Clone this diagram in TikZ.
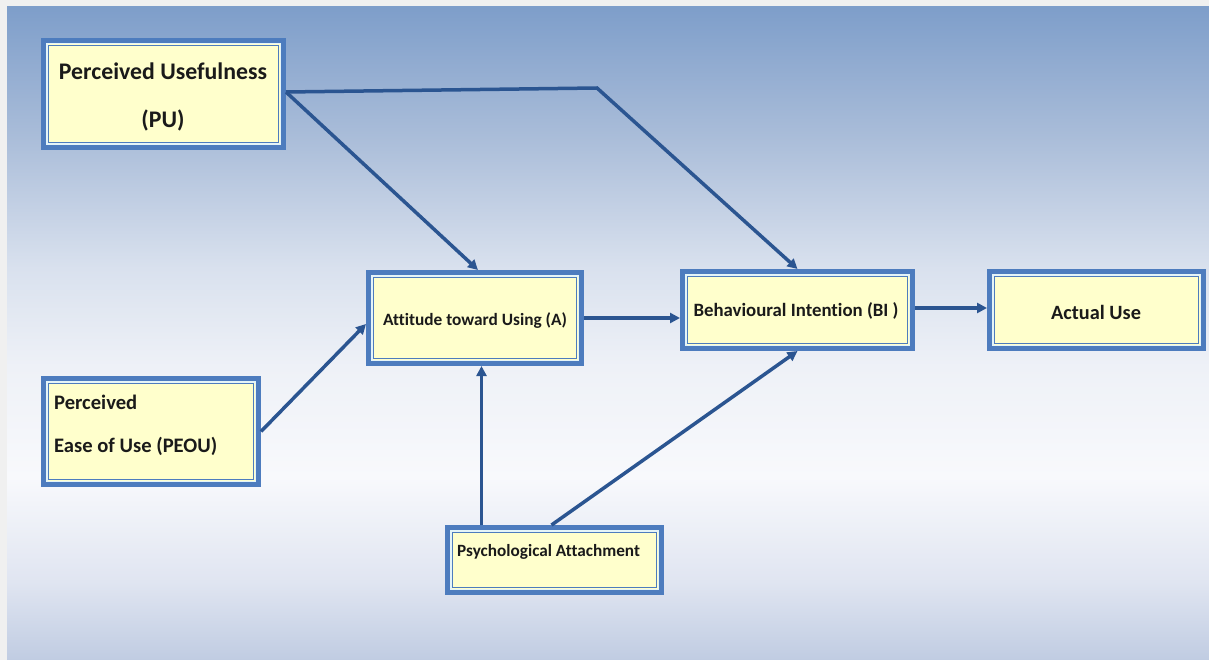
\documentclass[tikz,border=0pt]{standalone}
\usepackage{fontspec}
\setmainfont[Ligatures=CommonOff]{Carlito}
\usetikzlibrary{arrows.meta,calc}

% palette
\definecolor{frame}{HTML}{F0F0F0}
\definecolor{bgA}{HTML}{C0CCE2}
\definecolor{bgB}{HTML}{E0E5F1}
\definecolor{bgC}{HTML}{F8F9FC}
\definecolor{bgD}{HTML}{EEF1F7}
\definecolor{bgE}{HTML}{D9E1EE}
\definecolor{bgF}{HTML}{AABDD9}
\definecolor{bgG}{HTML}{7E9ECA}
\definecolor{boxblue}{HTML}{4D7CBE}
\definecolor{boxgap}{HTML}{E4F4F8}
\definecolor{boxfill}{HTML}{FFFFCC}
\definecolor{linkblue}{HTML}{2B5591}
\definecolor{ink}{HTML}{1A1A1A}

% background fade: light blue at the bottom, near white below the middle, blue at the top
\pgfdeclareverticalshading{skyfade}{100bp}{%
  color(0bp)=(bgA); color(25bp)=(bgA); color(31bp)=(bgB); color(39bp)=(bgC);
  color(47.5bp)=(bgD); color(55bp)=(bgE); color(65bp)=(bgF); color(75bp)=(bgG);
  color(100bp)=(bgG)}

\tikzset{
  tambox/.style={draw=boxblue, line width=5pt, fill=boxfill, inner sep=0pt,
    outer sep=2.5pt, text=ink, font=\bfseries,
    path picture={
      \draw[boxgap, line width=1.5pt]
        ([shift={(3.25pt,3.25pt)}]path picture bounding box.south west) rectangle
        ([shift={(-3.25pt,-3.25pt)}]path picture bounding box.north east);
      \draw[boxblue, line width=1pt]
        ([shift={(4.75pt,4.75pt)}]path picture bounding box.south west) rectangle
        ([shift={(-4.75pt,-4.75pt)}]path picture bounding box.north east);
    }},
  boxtext/.style={inner sep=0pt, text=ink, font=\bfseries},
  conn/.style={draw=linkblue, line width=3.5pt,
    -{Triangle[length=10pt,width=10pt]}},
}

\begin{document}
\begin{tikzpicture}[x=1pt,y=-1pt]
  \useasboundingbox (0,0) rectangle (1209,660);
  \fill[frame] (0,0) rectangle (1209,660);
  \shade[shading=skyfade] (7,7) rectangle (1209,660);

  % boxes and their texts
  \node[tambox, minimum width=240pt, minimum height=107pt] (PU) at (163.5,94) {};
  \node[boxtext, anchor=base, font=\bfseries\fontsize{23.8}{28}\selectfont] (PUa) at (163,80) {Perceived Usefulness};
  \node[boxtext, anchor=base, font=\bfseries\fontsize{23.8}{28}\selectfont] (PUb) at (163,128) {(PU)};

  \node[tambox, minimum width=213pt, minimum height=91pt] (A) at (475,318) {};
  \node[boxtext, anchor=base, font=\bfseries\fontsize{17.3}{20}\selectfont] (At) at (475,325) {Attitude toward Using (A)};

  \node[tambox, minimum width=230pt, minimum height=77pt] (BI) at (797.5,310) {};
  \node[boxtext, anchor=base, font=\bfseries\fontsize{18.8}{22}\selectfont] (BIt) at (796,316) {Behavioural Intention (BI )};

  \node[tambox, minimum width=214pt, minimum height=77pt] (AU) at (1096.5,310) {};
  \node[boxtext, anchor=base, font=\bfseries\fontsize{20.3}{24}\selectfont] (AUt) at (1096,319) {Actual Use};

  \node[tambox, minimum width=215pt, minimum height=106pt] (PEOU) at (151,431.5) {};
  \node[boxtext, anchor=base west, font=\bfseries\fontsize{20.6}{24}\selectfont] (PEOUa) at (54,409) {Perceived};
  \node[boxtext, anchor=base west, font=\bfseries\fontsize{20.6}{24}\selectfont] (PEOUb) at (54,452) {Ease of Use (PEOU)};

  \node[tambox, minimum width=214pt, minimum height=65pt] (PSY) at (554.5,560) {};
  \node[boxtext, anchor=base west, font=\bfseries\fontsize{17.2}{20}\selectfont] (PSYt) at (457,556) {Psychological Attachment};

  % connectors
  \coordinate (bend) at (597,88);
  \draw[conn] ([yshift=2pt]PU.east) -- ([xshift=3pt]A.north);
  \draw[conn] ([yshift=2pt]PU.east) -- (bend) -- (BI.north);
  \draw[conn] (PEOU.east) -- ([yshift=-6pt]A.west);
  \draw[conn] (A.east) -- (A.east -| BI.west);
  \draw[conn] ([xshift=-73pt]PSY.north) -- ([xshift=-73pt]PSY.north |- A.south);
  \draw[conn] ([xshift=-3pt]PSY.north) -- (BI.south);
  \draw[conn] ([yshift=2pt]BI.east) -- ([yshift=2pt]AU.west);
\end{tikzpicture}
\end{document}
